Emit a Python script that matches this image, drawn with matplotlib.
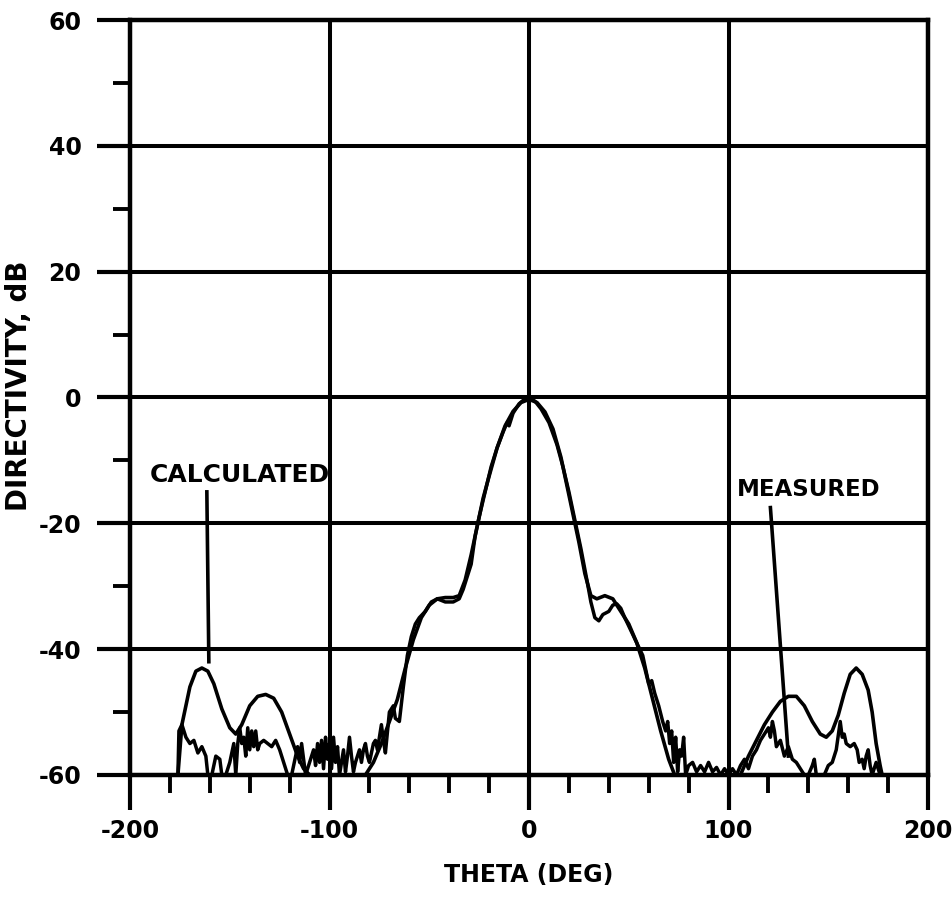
import matplotlib
matplotlib.use("Agg")
import matplotlib.pyplot as plt
from matplotlib.ticker import MultipleLocator

plt.rcParams['font.family'] = ['DejaVu Sans']
plt.rcParams['font.weight'] = 'bold'
plt.rcParams['axes.unicode_minus'] = False

# calculated pattern (smooth curve)
calc_theta = [-176, -174, -170, -167, -164, -161, -158, -154, -150, -147, -144, -140, -136,
              -132, -128, -124, -120, -116, -113, -110, -82, -78, -74, -70, -66, -62, -58,
              -54, -50, -46, -42, -38, -35, -32, -29, -26, -23, -20, -16, -12, -8, -4, 0,
              4, 8, 12, 16, 19, 22, 25, 28, 31, 34, 38, 42, 46, 50, 54, 58, 62, 66, 70,
              73, 106, 110, 114, 118, 122, 126, 130, 134, 138, 142, 146, 149, 152, 155,
              158, 161, 164, 167, 170, 172, 174, 176, 177]
calc_db = [-60, -52, -46, -43.5, -43, -43.5, -45.5, -49.5, -52.5, -53.5, -52, -49, -47.5,
           -47.2, -47.8, -50, -53.5, -57, -59, -60, -60, -58, -55, -51.5, -48, -43, -38.5,
           -35, -33, -32, -31.8, -31.8, -31.5, -29, -25, -20.5, -16, -12.5, -8, -4.5, -2.2,
           -0.8, -0.3, -0.8, -2.3, -5, -9.5, -14, -18.5, -23, -28, -31.5, -32, -31.5, -32,
           -34, -36, -39, -43, -48, -53, -57.5, -60, -60, -57, -54.5, -52, -50, -48.3,
           -47.5, -47.5, -49, -51.5, -53.5, -54, -53, -50.5, -47, -44, -43, -44, -46.5,
           -50, -55, -58.5, -60]

# measured pattern (noisy curve)
meas_theta = [-176, -175.5, -174, -172, -170, -168, -166, -164, -162, -161, -159, -157,
              -155, -154, -152, -150, -148, -147, -146, -145, -144, -143, -142, -141, -140,
              -139, -138, -137, -136, -135, -133, -131, -129, -127, -125, -123, -121, -119,
              -117, -116, -115, -114, -113, -112, -110, -108, -107, -106, -105, -104, -103,
              -102, -101, -100, -99, -98, -97, -96, -95, -94, -93, -92, -91, -90, -89, -88,
              -87, -86, -85, -84, -83, -82, -81, -80, -79, -78, -77, -76, -75, -74, -73,
              -72, -70, -68, -67, -65, -63, -61, -59, -57, -55, -52, -49, -46, -42, -38,
              -35, -33, -31, -29, -27, -25, -22, -19, -16, -13, -11, -10, -8, -5, -2, 0,
              3, 6, 10, 14, 17, 20, 23, 26, 29, 31, 33, 35, 37, 40, 42, 44, 46, 48, 51, 54,
              57, 59, 60, 61.5, 63, 65, 67, 68.5, 69.5, 70.5, 71.5, 72.5, 73.5, 74.5, 75.5,
              76.5, 77.5, 78.5, 80, 82, 84, 86, 88, 90, 92, 94, 96, 98, 100, 102, 104, 106,
              108, 110, 112, 114, 116, 118, 120, 121, 122, 123, 124, 126, 128, 130, 132, 134,
              136, 138, 140, 142, 143, 144, 148, 150, 152, 154, 156, 157, 158, 159, 161, 163,
              164.5, 165.5, 167, 168, 169, 170, 171, 172, 174, 175, 176]
meas_db = [-60, -53, -52, -54, -55, -54.5, -56.5, -55.5, -57, -60, -60, -57,
           -57.5, -60, -60, -58, -55, -60, -55, -52.5, -55, -54, -57, -52.5, -56,
           -53, -55.5, -53, -56, -55, -54.5, -55, -55.5, -54.5, -56, -58, -60, -60,
           -57, -55.5, -58, -55, -57.5, -60, -58, -56, -58.5, -55, -58, -54.5, -59,
           -54, -57.5, -55, -59, -54, -58, -55.5, -60, -58, -56, -59.5, -57, -54, -57, -59.5,
           -58, -57, -56, -58, -56, -55, -57, -58, -56.5, -55, -54.5, -56, -54, -52, -54.5,
           -56.5, -50, -49, -51, -51.5, -46, -41, -38, -36, -35, -34, -32.5, -32, -32.5, -32.5,
           -32, -30.5, -28.5, -26.5, -22, -19, -15, -11, -8, -5.5, -4, -4.5, -2.5, -1, -0.2, 0,
           -0.6, -1.8, -4, -7.5, -11, -15, -19.5, -24, -29, -32.5, -35, -35.5, -34.5, -34, -33, -32.8, -33.5, -35, -37, -39,
           -41, -44, -45.5, -45, -47, -49, -51.5, -53, -51.5, -55, -53, -58, -54, -59.5, -56,
           -57, -54, -60, -58.5, -58, -59.5, -58.5, -59.5, -58, -59.5, -58.8, -60, -59, -60, -59, -60, -58.5,
           -57.5, -59, -57, -56, -54.5, -53.5, -52.5, -54, -51.5, -53, -55.5, -54.5, -57, -55.5, -57.5, -58,
           -59, -60, -60, -58.5, -57.5, -60, -60, -58.5, -58, -56, -51.5, -54, -53.5, -55, -55.5, -55,
           -56, -58, -57.5, -59, -57, -56, -58.5, -60, -58, -59, -60]

fig = plt.figure(figsize=(9.52, 9.18), dpi=100)
ax = fig.add_axes([0.1366, 0.1558, 0.8382, 0.8224])

ax.plot(calc_theta, calc_db, color='black', lw=2.6, solid_joinstyle='round')
ax.plot(meas_theta, meas_db, color='black', lw=2.5, solid_joinstyle='round')

ax.set_xlim(-200, 200)
ax.set_ylim(-60, 60)
ax.xaxis.set_major_locator(MultipleLocator(100))
ax.xaxis.set_minor_locator(MultipleLocator(20))
ax.yaxis.set_major_locator(MultipleLocator(20))
ax.yaxis.set_minor_locator(MultipleLocator(10))
ax.grid(True, which='major', color='black', lw=2.9)
ax.set_axisbelow(True)
for s in ax.spines.values():
    s.set_linewidth(3.2)

ax.tick_params(axis='x', which='major', length=25, width=3, labelsize=17, pad=7)
ax.tick_params(axis='x', which='minor', length=13, width=2.8)
ax.tick_params(axis='y', which='major', length=24, width=3, labelsize=17, pad=11)
ax.tick_params(axis='y', which='minor', length=12, width=2.8)

ax.set_xlabel("THETA (DEG)", fontsize=17, fontweight='bold')
ax.set_ylabel("DIRECTIVITY, dB", fontsize=20, fontweight='bold')
ax.xaxis.set_label_coords(0.5, -0.117)
ax.yaxis.set_label_coords(-0.122, 0.515)

ax.text(-145, -12.3, "CALCULATED", fontsize=18, fontweight='bold', ha='center', va='center')
ax.plot([-161.5, -160.5], [-15, -42], color='black', lw=2.6)
ax.text(140, -14.6, "MEASURED", fontsize=16.5, fontweight='bold', ha='center', va='center')
ax.plot([121, 130], [-17.5, -57], color='black', lw=2.6)

fig.savefig("out.png", dpi=100)
